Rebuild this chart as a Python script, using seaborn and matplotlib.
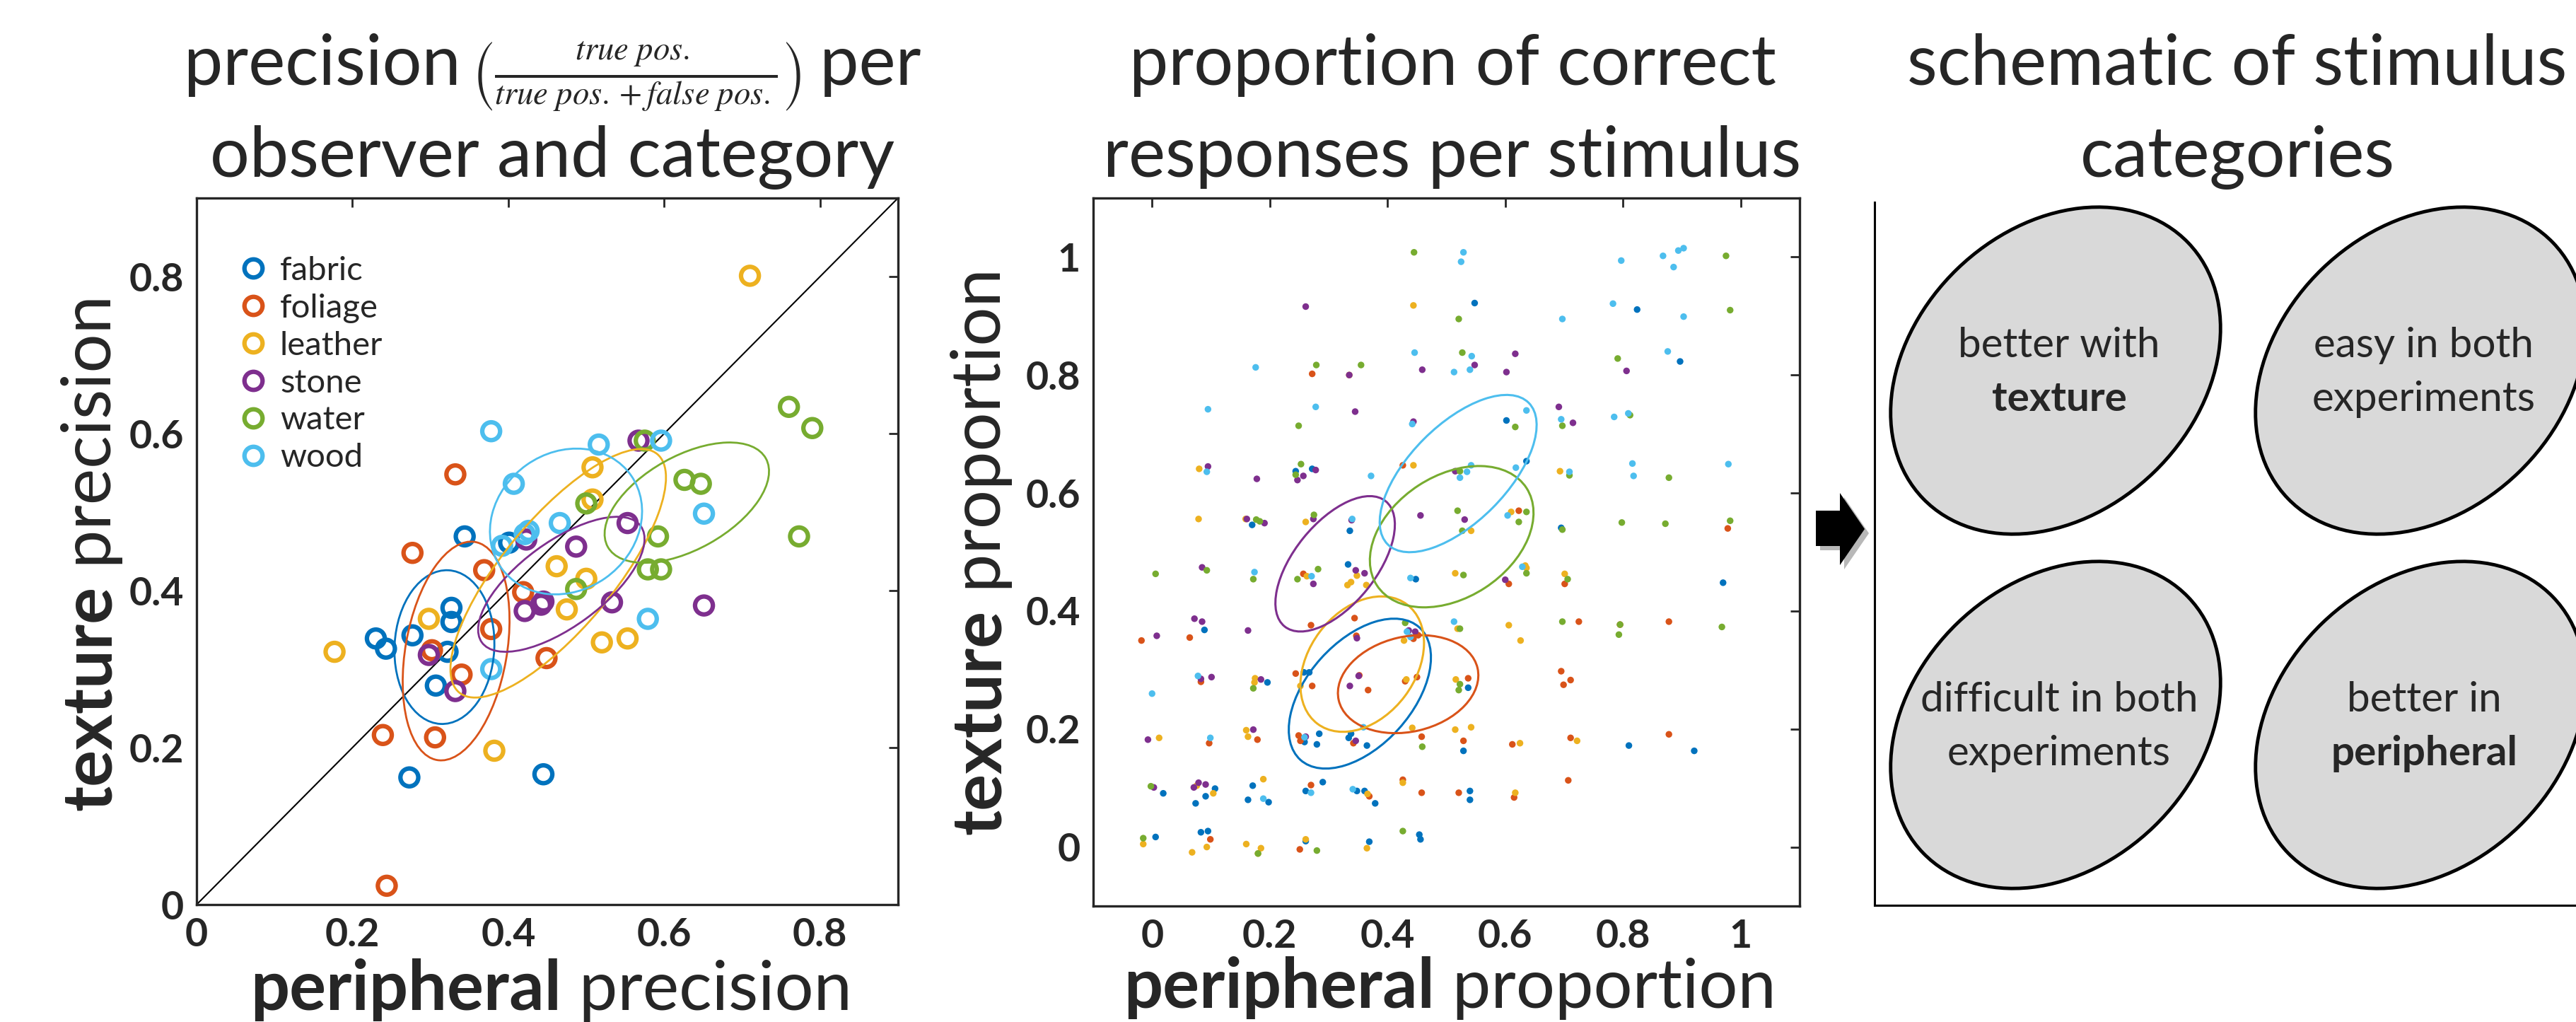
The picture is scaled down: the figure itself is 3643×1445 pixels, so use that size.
import numpy as np
import pandas as pd
import matplotlib
matplotlib.use("Agg")
import matplotlib.pyplot as plt
import seaborn as sns
from matplotlib.patches import Ellipse, Polygon
from matplotlib.lines import Line2D

categories = ["fabric", "foliage", "leather", "stone", "water", "wood"]
colors = ["#0072BD", "#D95319", "#EDB120", "#7E2F8E", "#77AC30", "#4DBEEE"]

# precision per observer (peripheral x, texture y)
prec_fabric = [(0.230, 0.339), (0.243, 0.326), (0.277, 0.343), (0.327, 0.378), (0.327, 0.360), (0.322, 0.322),
               (0.307, 0.279), (0.344, 0.469), (0.401, 0.461), (0.273, 0.162), (0.445, 0.166)]
prec_foliage = [(0.332, 0.548), (0.277, 0.448), (0.369, 0.426), (0.378, 0.351), (0.419, 0.398), (0.302, 0.324),
                (0.340, 0.293), (0.449, 0.314), (0.239, 0.216), (0.306, 0.213), (0.244, 0.024)]
prec_leather = [(0.710, 0.801), (0.508, 0.557), (0.508, 0.516), (0.462, 0.431), (0.500, 0.415), (0.475, 0.376),
                (0.298, 0.364), (0.177, 0.322), (0.520, 0.334), (0.553, 0.339), (0.382, 0.196)]
prec_stone = [(0.567, 0.591), (0.553, 0.486), (0.487, 0.456), (0.423, 0.465), (0.421, 0.374), (0.442, 0.382),
              (0.533, 0.385), (0.651, 0.381), (0.298, 0.318), (0.332, 0.272), (0.445, 0.386)]
prec_water = [(0.760, 0.634), (0.790, 0.607), (0.575, 0.591), (0.626, 0.541), (0.647, 0.536), (0.500, 0.511),
              (0.592, 0.469), (0.773, 0.469), (0.579, 0.427), (0.596, 0.427), (0.487, 0.402)]
prec_wood = [(0.378, 0.603), (0.516, 0.586), (0.596, 0.591), (0.407, 0.536), (0.651, 0.498), (0.466, 0.486),
             (0.426, 0.476), (0.421, 0.472), (0.392, 0.457), (0.579, 0.364), (0.378, 0.300)]

# proportion correct per stimulus (peripheral x, texture y)
resp_fabric = [(0.548, 0.922), (0.602, 0.723), (0.244, 0.637), (0.272, 0.641), (0.636, 0.654), (0.170, 0.546),
               (0.336, 0.536), (0.695, 0.541), (0.333, 0.479), (0.448, 0.454), (0.970, 0.448), (0.824, 0.911),
               (0.897, 0.823), (0.089, 0.368), (0.258, 0.296), (0.267, 0.296), (0.196, 0.279), (0.537, 0.270),
               (0.259, 0.178), (0.284, 0.192), (0.280, 0.174), (0.338, 0.192), (0.334, 0.185), (0.365, 0.172),
               (0.529, 0.163), (0.810, 0.172), (0.921, 0.163), (0.019, 0.091), (0.107, 0.099), (0.091, 0.086),
               (0.074, 0.074), (0.171, 0.104), (0.163, 0.080), (0.198, 0.076), (0.290, 0.110), (0.261, 0.095),
               (0.348, 0.095), (0.361, 0.095), (0.379, 0.074), (0.540, 0.095), (0.540, 0.080), (0.006, 0.017),
               (0.083, 0.025), (0.095, 0.027), (0.261, 0.010), (0.369, 0.009), (0.454, 0.021), (0.456, 0.013)]
resp_foliage = [(0.272, 0.802), (0.426, 0.647), (0.623, 0.570), (0.606, 0.446), (0.701, 0.446), (0.257, 0.463),
                (0.978, 0.540), (-0.018, 0.350), (0.064, 0.355), (0.270, 0.376), (0.344, 0.388), (0.444, 0.353),
                (0.452, 0.359), (0.347, 0.358), (0.725, 0.382), (0.795, 0.377), (0.878, 0.382), (0.083, 0.280),
                (0.244, 0.294), (0.272, 0.273), (0.352, 0.291), (0.367, 0.266), (0.430, 0.281), (0.450, 0.288),
                (0.537, 0.286), (0.695, 0.298), (0.711, 0.283), (0.699, 0.275), (0.097, 0.176), (0.179, 0.182),
                (0.249, 0.189), (0.252, 0.180), (0.342, 0.176), (0.458, 0.187), (0.529, 0.180), (0.612, 0.174),
                (0.711, 0.185), (0.878, 0.191), (0.270, 0.105), (0.369, 0.086), (0.426, 0.114), (0.458, 0.092),
                (0.521, 0.092), (0.615, 0.084), (0.707, 0.113), (0.099, 0.013), (0.251, -0.004)]
resp_leather = [(0.444, 0.918), (0.335, 0.800), (0.080, 0.641), (0.444, 0.647), (0.693, 0.637), (0.079, 0.556),
                (0.159, 0.556), (0.261, 0.551), (0.542, 0.536), (0.610, 0.568), (0.263, 0.459), (0.348, 0.460),
                (0.332, 0.444), (0.338, 0.449), (0.364, 0.444), (0.515, 0.464), (0.634, 0.477), (0.636, 0.473),
                (0.701, 0.463), (0.428, 0.350), (0.519, 0.370), (0.606, 0.376), (0.626, 0.350), (0.175, 0.286),
                (0.174, 0.279), (0.252, 0.273), (0.432, 0.284), (0.516, 0.284), (0.012, 0.185), (0.160, 0.198),
                (0.163, 0.187), (0.442, 0.202), (0.515, 0.199), (0.542, 0.203), (0.625, 0.176), (0.722, 0.180),
                (0.076, 0.104), (0.104, 0.091), (0.189, 0.115), (0.366, 0.090), (0.426, 0.109), (0.617, 0.092),
                (-0.015, 0.005), (0.093, 0.000), (0.068, -0.009), (0.160, 0.005), (0.185, -0.002), (0.180, -0.011),
                (0.261, 0.013), (0.365, -0.002)]
resp_stone = [(0.261, 0.916), (0.335, 0.800), (0.459, 0.809), (0.548, 0.817), (0.617, 0.836), (0.602, 0.805),
              (0.806, 0.807), (0.345, 0.738), (0.444, 0.721), (0.691, 0.746), (0.715, 0.719), (0.095, 0.645),
              (0.178, 0.624), (0.247, 0.622), (0.257, 0.629), (0.278, 0.639), (0.515, 0.637), (0.161, 0.556),
              (0.191, 0.549), (0.274, 0.556), (0.339, 0.554), (0.456, 0.562), (0.531, 0.555), (0.085, 0.474),
              (0.274, 0.446), (0.346, 0.469), (0.361, 0.464), (0.600, 0.453), (0.072, 0.387), (0.085, 0.382),
              (0.008, 0.358), (0.163, 0.367), (0.436, 0.367), (0.447, 0.365), (0.348, 0.354), (0.083, 0.285),
              (0.101, 0.288), (0.185, 0.284), (0.351, 0.290), (0.336, 0.273), (-0.007, 0.182), (0.172, 0.199),
              (0.261, 0.187), (0.346, 0.180), (0.003, 0.101), (0.071, 0.101), (0.079, 0.109), (0.091, 0.106)]
resp_water = [(0.445, 1.008), (0.521, 0.895), (0.279, 0.817), (0.355, 0.817), (0.527, 0.838), (0.791, 0.828),
              (0.249, 0.714), (0.617, 0.712), (0.697, 0.714), (0.812, 0.732), (0.253, 0.649), (0.244, 0.631),
              (0.523, 0.637), (0.709, 0.630), (0.177, 0.555), (0.183, 0.552), (0.275, 0.563), (0.519, 0.570),
              (0.527, 0.536), (0.623, 0.551), (0.636, 0.568), (0.697, 0.538), (0.006, 0.463), (0.093, 0.469),
              (0.172, 0.454), (0.247, 0.454), (0.282, 0.471), (0.529, 0.461), (0.636, 0.464), (0.706, 0.454),
              (0.975, 1.002), (0.982, 0.910), (0.878, 0.626), (0.798, 0.550), (0.872, 0.548), (0.982, 0.553),
              (0.430, 0.380), (0.523, 0.370), (0.697, 0.382), (0.795, 0.377), (0.793, 0.360), (0.968, 0.373),
              (0.172, 0.269), (0.523, 0.276), (0.521, 0.266), (0.459, 0.170), (-0.002, 0.103), (-0.015, 0.015),
              (0.180, -0.011), (0.280, -0.006), (0.426, 0.027)]
resp_wood = [(0.529, 1.008), (0.525, 0.992), (0.797, 0.994), (0.868, 1.002), (0.894, 1.011), (0.903, 1.015),
             (0.886, 0.983), (0.783, 0.921), (0.697, 0.895), (0.903, 0.899), (0.176, 0.813), (0.446, 0.838),
             (0.513, 0.805), (0.543, 0.832), (0.540, 0.809), (0.876, 0.840), (0.095, 0.742), (0.278, 0.746),
             (0.442, 0.717), (0.636, 0.740), (0.695, 0.725), (0.785, 0.729), (0.809, 0.735), (0.093, 0.636),
             (0.372, 0.629), (0.523, 0.626), (0.535, 0.636), (0.542, 0.647), (0.618, 0.643), (0.709, 0.636),
             (0.818, 0.629), (0.816, 0.650), (0.979, 0.649), (0.340, 0.556), (0.604, 0.562), (0.174, 0.466),
             (0.271, 0.459), (0.439, 0.456), (0.629, 0.475), (0.433, 0.365), (0.439, 0.356), (0.513, 0.382),
             (0.078, 0.290), (0.000, 0.260), (0.099, 0.185), (0.259, 0.186), (0.359, 0.203), (0.189, 0.082),
             (0.270, 0.092), (0.341, 0.098)]

# covariance ellipses: centre x, centre y, width, height, angle (deg)
prec_ellipses = [(0.318, 0.328, 0.196, 0.128, 87), (0.333, 0.323, 0.282, 0.130, 80),
                 (0.464, 0.422, 0.396, 0.141, 50), (0.468, 0.408, 0.252, 0.108, 36),
                 (0.629, 0.512, 0.232, 0.119, 29), (0.474, 0.488, 0.204, 0.176, 35)]
resp_ellipses = [(0.353, 0.260, 0.302, 0.178, 48), (0.435, 0.276, 0.242, 0.161, 13),
                 (0.357, 0.310, 0.253, 0.181, 53), (0.311, 0.480, 0.273, 0.139, 51),
                 (0.509, 0.526, 0.303, 0.207, 33), (0.520, 0.633, 0.339, 0.165, 45)]

prec_ticks = [0, 0.2, 0.4, 0.6, 0.8]
prec_ticklabels = ["0", "0.2", "0.4", "0.6", "0.8"]
resp_ticks = [0, 0.2, 0.4, 0.6, 0.8, 1]
resp_ticklabels = ["0", "0.2", "0.4", "0.6", "0.8", "1"]

schematic_boxes = [["better with", "texture"], ["easy in both", "experiments"],
                   ["difficult in both", "experiments"], ["better in", "peripheral"]]
schematic_bold = [1, None, None, 1]


def to_frame(groups):
    parts = []
    for cat, pts in zip(categories, groups):
        arr = np.array(pts)
        parts.append(pd.DataFrame({"peripheral": arr[:, 0], "texture": arr[:, 1], "category": cat}))
    return pd.concat(parts, ignore_index=True)


prec = to_frame([prec_fabric, prec_foliage, prec_leather, prec_stone, prec_water, prec_wood])
resp = to_frame([resp_fabric, resp_foliage, resp_leather, resp_stone, resp_water, resp_wood])

sns.set_style("white")
plt.rcParams["font.family"] = ["Lato", "DejaVu Sans"]
plt.rcParams["mathtext.fontset"] = "stix"

W, H = 3643, 1445
fig = plt.figure(figsize=(W / 100, H / 100), dpi=100)
GREY = "#262626"


def px_box(x0, y0, x1, y1):
    return [x0 / W, 1 - y1 / H, (x1 - x0) / W, (y1 - y0) / H]


def style_axes(ax, ticks, labels, lim):
    ax.set_xlim(lim)
    ax.set_ylim(lim)
    ax.set_xticks(ticks)
    ax.set_yticks(ticks)
    ax.set_xticklabels(labels, fontweight="bold")
    ax.set_yticklabels(labels, fontweight="bold")
    ax.tick_params(direction="in", length=9.5, width=2, top=True, right=True,
                   labelsize=40, colors=GREY, pad=13)
    for sp in ax.spines.values():
        sp.set_visible(True)
        sp.set_color(GREY)
        sp.set_linewidth(2.4)
    ax.set_xlabel("")
    ax.set_ylabel("")


def put_row(pieces, center, base, vertical=False):
    # lay text pieces end to end on a shared baseline, centred on `center` (pixels)
    texts = [fig.text(0, 0, s, rotation=90 if vertical else 0, rotation_mode="anchor",
                      ha="left", va="baseline", **kw) for s, kw in pieces]
    r = fig.canvas.get_renderer()
    lens = [(t.get_window_extent(r).height if vertical else t.get_window_extent(r).width) for t in texts]
    pos = center - sum(lens) / 2
    for t, L in zip(texts, lens):
        if vertical:
            t.set_position((base / W, pos / H))
        else:
            t.set_position((pos / W, 1 - base / H))
        pos += L


# ---- left: precision per observer
ax1 = fig.add_axes(px_box(278, 280, 1270, 1279))
ax1.plot([0, 0.9], [0, 0.9], color="black", lw=1.5, zorder=1)
sns.scatterplot(data=prec, x="peripheral", y="texture", hue="category", hue_order=categories,
                palette=colors, s=330, ax=ax1, legend=False, zorder=3)
pts = ax1.collections[-1]
pts.set_edgecolors(pts.get_facecolors())
pts.set_facecolors("none")
pts.set_linewidths(4.5)
for (cx, cy, w, h, a), c in zip(prec_ellipses, colors):
    ax1.add_patch(Ellipse((cx, cy), w, h, angle=a, fill=False, ec=c, lw=2, zorder=4))
style_axes(ax1, prec_ticks, prec_ticklabels, (0, 0.9))
handles = [Line2D([], [], ls="none", marker="o", ms=18.4, mfc="none", mec=c, mew=4.5) for c in colors]
ax1.legend(handles, categories, loc="upper left", bbox_to_anchor=(0.057, 0.918), frameon=False,
           fontsize=34, handlelength=1.0, handletextpad=0.3, labelspacing=0.23, borderpad=0, borderaxespad=0)

# ---- middle: proportion correct per stimulus
ax2 = fig.add_axes(px_box(1546, 280, 2545, 1281))
sns.scatterplot(data=resp, x="peripheral", y="texture", hue="category", hue_order=categories,
                palette=colors, s=46, linewidth=0, ax=ax2, legend=False, zorder=3)
for (cx, cy, w, h, a), c in zip(resp_ellipses, colors):
    ax2.add_patch(Ellipse((cx, cy), w, h, angle=a, fill=False, ec=c, lw=2.2, zorder=4))
style_axes(ax2, resp_ticks, resp_ticklabels, (-0.1, 1.1))

# ---- right: schematic
ax3 = fig.add_axes(px_box(2651, 280, 3673, 1280))
ax3.set_xlim(0, 1022)
ax3.set_ylim(0, 1000)
ax3.set_xticks([])
ax3.set_yticks([])
for side in ["top", "right"]:
    ax3.spines[side].set_visible(False)
for side in ["left", "bottom"]:
    ax3.spines[side].set_color("black")
    ax3.spines[side].set_linewidth(2.2)
ax3.spines["left"].set_bounds(0, 994)
centres = [(256, 756), (772, 756), (256, 255), (772, 255)]
for (cx, cy), lines, bold in zip(centres, schematic_boxes, schematic_bold):
    ax3.add_patch(Ellipse((cx, cy), 521, 400, angle=44, fc="#D9D9D9", ec="black", lw=3.5))
    for i, line in enumerate(lines):
        ax3.text(cx + 5, cy + 19 - 76 * i, line, ha="center", va="baseline", fontsize=42,
                 fontweight="bold" if bold == i else "normal")

# arrow between the panels
arrow = [(2568, 722), (2602, 722), (2602, 697), (2637, 748), (2602, 799), (2602, 772), (2568, 772)]
shadow = Polygon([((x + 6) / W, 1 - (y + 6) / H) for x, y in arrow], closed=True,
                 transform=fig.transFigure, fc="#9a9a9a", ec="none", alpha=0.7)
fig.patches.append(shadow)
fig.patches.append(Polygon([(x / W, 1 - y / H) for x, y in arrow], closed=True,
                           transform=fig.transFigure, fc="black", ec="none"))

# ---- titles and labels
TFS, LFS = 71, 70
reg = dict(fontsize=TFS)
put_row([("precision", reg),
         (r" $\left(\frac{true\ pos.}{true\ pos.+false\ pos.}\right)$", dict(fontsize=48)),
         (" per", reg)], 781, 120)
put_row([("observer and category", reg)], 781, 250)
put_row([("proportion of correct", reg)], 2054, 120)
put_row([("responses per stimulus", reg)], 2054, 250)
put_row([("schematic of stimulus", reg)], 3164, 120)
put_row([("categories", reg)], 3164, 250)

bold = dict(fontsize=LFS, fontweight="bold")
plain = dict(fontsize=LFS)
put_row([("peripheral", bold), (" precision", plain)], 780, 1428)
put_row([("peripheral", bold), (" proportion", plain)], 2050, 1425)
# vertical labels: centre measured from the bottom of the figure
put_row([("texture", bold), (" precision", plain)], H - 782, 157, vertical=True)
put_row([("texture", bold), (" proportion", plain)], H - 780, 1415, vertical=True)

fig.savefig("out.png", dpi=100)
